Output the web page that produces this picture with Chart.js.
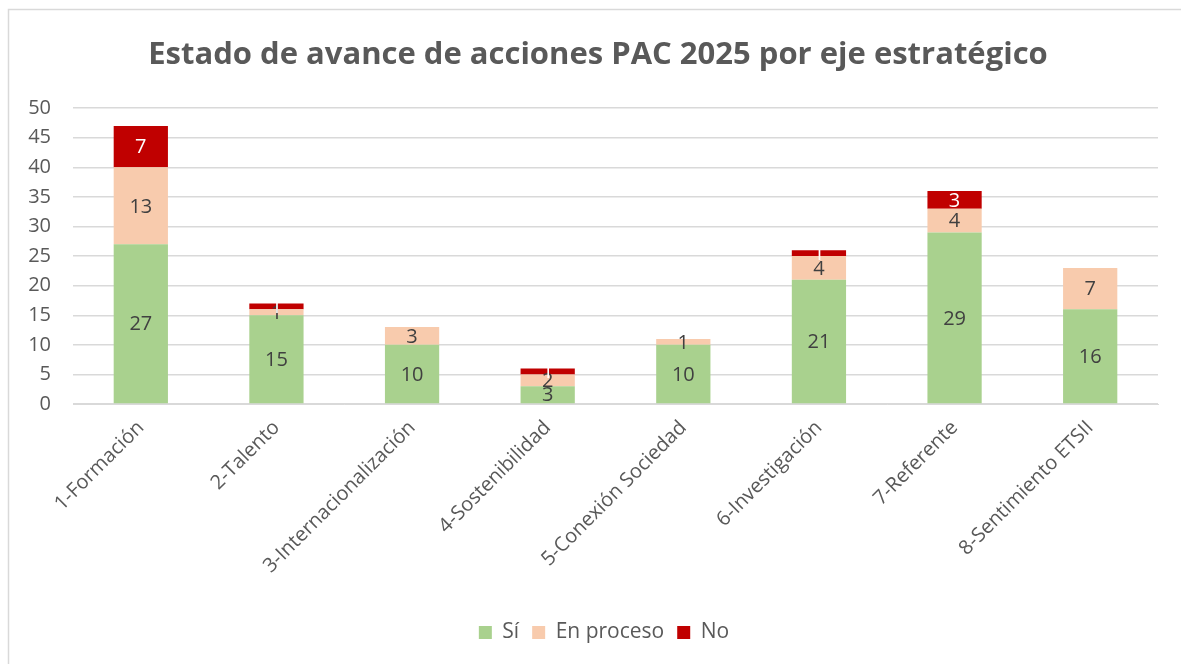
<!DOCTYPE html>
<html>
<head>
<meta charset="utf-8">
<script src="https://cdn.jsdelivr.net/npm/chart.js@4"></script>
<style>
html,body{margin:0;padding:0;background:#fff;}
#wrap{position:relative;width:1181px;height:664px;}
canvas{display:block;}
</style>
</head>
<body>
<div id="wrap"><canvas id="c" width="1181" height="664"></canvas></div>
<script>
const categories = ["1-Formación","2-Talento","3-Internacionalización","4-Sostenibilidad","5-Conexión Sociedad","6-Investigación","7-Referente","8-Sentimiento ETSII"];
const siValues = [27,15,10,3,10,21,29,16];
const procesoValues = [13,1,3,2,1,4,4,7];
const noValues = [7,1,0,1,0,1,3,0];
const yTicks = [0,5,10,15,20,25,30,35,40,45,50];

const FONT = "'Open Sans', sans-serif";
const TXT = "#595959";

const framePlugin = {
  id: 'frame',
  beforeDraw(chart){
    const ctx = chart.ctx;
    ctx.save();
    ctx.fillStyle = '#fff';
    ctx.fillRect(0,0,chart.width,chart.height);
    ctx.strokeStyle = '#d9d9d9';
    ctx.lineWidth = 1.5;
    ctx.beginPath();
    ctx.moveTo(8.5, chart.height);
    ctx.lineTo(8.5, 9.5);
    ctx.lineTo(chart.width, 9.5);
    ctx.stroke();
    ctx.restore();
  }
};

const shiftPlugin = {
  id: 'shiftBoxes',
  afterLayout(chart){
    if (chart.legend) { chart.legend.left += 25; chart.legend.right += 25; }
    if (chart.titleBlock) { chart.titleBlock.left += 19; chart.titleBlock.right += 19; }
  }
};

const labelPlugin = {
  id: 'segLabels',
  afterDatasetsDraw(chart){
    const ctx = chart.ctx;
    ctx.save();
    ctx.font = "20px " + FONT;
    ctx.textAlign = 'center';
    ctx.textBaseline = 'middle';
    chart.data.datasets.forEach((ds, di) => {
      const meta = chart.getDatasetMeta(di);
      meta.data.forEach((bar, i) => {
        const v = ds.data[i];
        if (!v) return;
        const p = bar.getProps(['x','y','base'], true);
        ctx.fillStyle = ds.labelColor;
        ctx.fillText(String(v), p.x, (p.y + p.base)/2 + 1);
      });
    });
    ctx.restore();
  }
};

new Chart(document.getElementById('c'), {
  type: 'bar',
  data: {
    labels: categories,
    datasets: [
      {label: 'Sí', data: siValues, backgroundColor: '#a9d18e', labelColor: '#404040'},
      {label: 'En proceso', data: procesoValues, backgroundColor: '#f8cbad', labelColor: '#404040'},
      {label: 'No', data: noValues, backgroundColor: '#c00000', labelColor: '#ffffff'}
    ]
  },
  options: {
    responsive: false,
    animation: false,
    layout: {padding: {left: 0, right: 23, top: 0, bottom: 11}},
    datasets: {bar: {categoryPercentage: 1, barPercentage: 0.4, borderWidth: 0}},
    plugins: {
      title: {
        display: true,
        text: 'Estado de avance de acciones PAC 2025 por eje estratégico',
        color: TXT,
        font: {family: FONT, size: 31, weight: 'bold'},
        padding: {top: 37, bottom: 34}
      },
      legend: {
        position: 'bottom',
        labels: {
          color: TXT,
          font: {family: FONT, size: 21},
          boxWidth: 13, boxHeight: 13,
          padding: 13
        }
      },
      tooltip: {enabled: false}
    },
    scales: {
      x: {
        stacked: true,
        grid: {display: false},
        border: {color: '#d9d9d9'},
        ticks: {color: TXT, font: {family: FONT, size: 20}, minRotation: 45, maxRotation: 45, padding: 4},
        afterFit(s){ s.height = 205; }
      },
      y: {
        stacked: true,
        min: 0, max: 50,
        afterBuildTicks(s){ s.ticks = yTicks.map(v => ({value: v})); },
        grid: {color: '#d9d9d9', lineWidth: 1.5, drawTicks: false},
        border: {display: false},
        ticks: {color: TXT, font: {family: FONT, size: 20}, padding: 22},
        afterFit(s){ s.width = 73; }
      }
    }
  },
  plugins: [framePlugin, shiftPlugin, labelPlugin]
});
</script>
</body>
</html>
